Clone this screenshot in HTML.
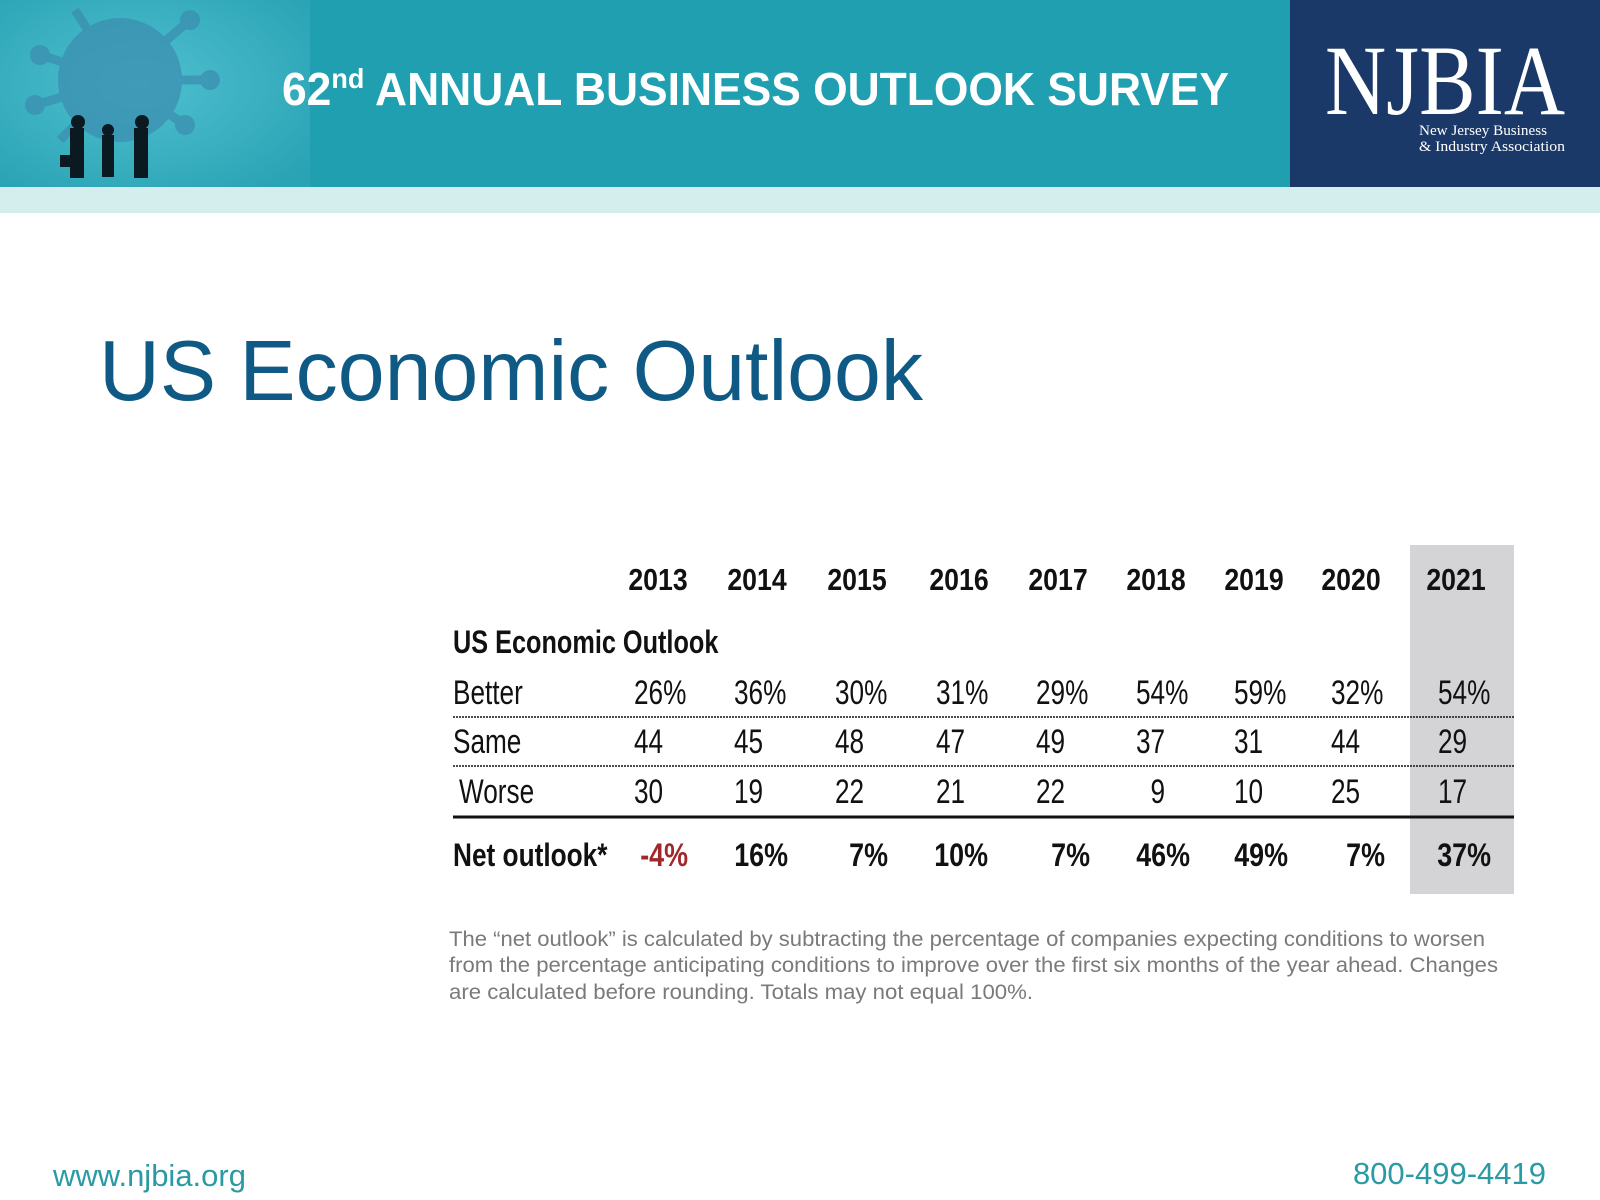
<!DOCTYPE html>
<html><head><meta charset="utf-8"><style>
html,body{margin:0;padding:0;background:#fff;}
svg{display:block;font-family:"Liberation Sans",sans-serif;}
</style></head><body>
<svg id="s" width="1600" height="1200" viewBox="0 0 1600 1200">
<defs>
<radialGradient id="g1" cx="0.45" cy="0.45" r="0.7"><stop offset="0" stop-color="#4fc0d0"/><stop offset="1" stop-color="#2aa3b4"/></radialGradient>
</defs>
<rect x="0" y="0" width="1600" height="187" fill="#1f9fb0"/>
<rect x="0" y="0" width="310" height="187" fill="url(#g1)"/>
<g fill="#3b8fb0" opacity="0.75">
<circle cx="120" cy="80" r="62"/>
<g stroke="#3b8fb0" stroke-width="9">
<line x1="120" y1="80" x2="40" y2="55"/><line x1="120" y1="80" x2="35" y2="105"/><line x1="120" y1="80" x2="75" y2="10"/>
<line x1="120" y1="80" x2="190" y2="20"/><line x1="120" y1="80" x2="210" y2="80"/><line x1="120" y1="80" x2="185" y2="125"/>
<line x1="120" y1="80" x2="60" y2="140"/></g>
<circle cx="40" cy="55" r="10"/><circle cx="35" cy="105" r="10"/><circle cx="190" cy="20" r="10"/><circle cx="210" cy="80" r="10"/><circle cx="185" cy="125" r="10"/>
</g>
<g fill="#0a1a20">
<rect x="70" y="128" width="14" height="50"/><rect x="102" y="135" width="12" height="42"/><rect x="134" y="128" width="14" height="50"/>
<circle cx="78" cy="122" r="7"/><circle cx="108" cy="130" r="6"/><circle cx="142" cy="122" r="7"/>
<rect x="60" y="155" width="10" height="12"/>
</g>
<text x="282" y="105" fill="#fff" font-weight="bold" font-size="46" textLength="947" lengthAdjust="spacingAndGlyphs">62<tspan font-size="28" dy="-17">nd</tspan><tspan dy="17"> ANNUAL BUSINESS OUTLOOK SURVEY</tspan></text>
<rect x="1290" y="0" width="310" height="187" fill="#1b3968"/>
<text x="1325" y="114" fill="#fff" font-family="Liberation Serif,serif" font-size="100" textLength="240" lengthAdjust="spacingAndGlyphs">NJBIA</text>
<text x="1419" y="135" fill="#fff" font-family="Liberation Serif,serif" font-size="15" textLength="128" lengthAdjust="spacingAndGlyphs">New Jersey Business</text>
<text x="1419" y="151" fill="#fff" font-family="Liberation Serif,serif" font-size="15" textLength="146" lengthAdjust="spacingAndGlyphs">&amp; Industry Association</text>
<rect x="0" y="187" width="1600" height="26" fill="#d4eded"/>
<text x="99" y="400" fill="#0f5a85" font-size="85" textLength="824" lengthAdjust="spacingAndGlyphs">US Economic Outlook</text>
<rect x="1410" y="545" width="104" height="349" fill="#d4d4d6"/>
<g id="tbl"></g>
<g fill="#7a7a7a" font-size="21">
<text x="449" y="946" textLength="1036" lengthAdjust="spacingAndGlyphs">The “net outlook” is calculated by subtracting the percentage of companies expecting conditions to worsen</text>
<text x="449" y="972" textLength="1049" lengthAdjust="spacingAndGlyphs">from the percentage anticipating conditions to improve over the first six months of the year ahead. Changes</text>
<text x="449" y="999" textLength="584" lengthAdjust="spacingAndGlyphs">are calculated before rounding. Totals may not equal 100%.</text>
</g>
<text x="53" y="1186" fill="#2a9aa5" font-size="31">www.njbia.org</text>
<text x="1546" y="1184" fill="#2a9aa5" font-size="31" text-anchor="end">800-499-4419</text>
</svg>
<script>
const years=["2013","2014","2015","2016","2017","2018","2019","2020","2021"];
const better=[26,36,30,31,29,54,59,32,54];
const same=[44,45,48,47,49,37,31,44,29];
const worse=[30,19,22,21,22,9,10,25,17];
const net=[-4,16,7,10,7,46,49,7,37];
const NS="http://www.w3.org/2000/svg";
const g=document.getElementById('tbl');
const colStart=[634,734,835,936,1036,1136,1234,1331,1438];
const colCenter=[658,757,857,959,1058,1156,1254,1351,1456];
const colRight=[688,788,888,988,1090,1190,1288,1385,1491];
function txt(s,x,y,size,bold,sx,anchor,fill){
  const t=document.createElementNS(NS,'text');
  t.setAttribute('transform','translate('+x+','+y+') scale('+sx+',1)');
  t.setAttribute('font-size',size);
  if(bold)t.setAttribute('font-weight','bold');
  if(anchor)t.setAttribute('text-anchor',anchor);
  t.setAttribute('fill',fill||'#111');
  t.textContent=s;g.appendChild(t);return t;}
function line(y,w,dash){
  const l=document.createElementNS(NS,'line');
  l.setAttribute('x1',453);l.setAttribute('x2',1514);l.setAttribute('y1',y);l.setAttribute('y2',y);
  l.setAttribute('stroke','#111');l.setAttribute('stroke-width',w);
  if(dash)l.setAttribute('stroke-dasharray',dash);
  
  
  g.appendChild(l);}
years.forEach((y,i)=>{
  const t=txt(y,colCenter[i],590,31,true,0.86,'middle');
  
  
});
let h=txt('US Economic Outlook',453,653,32,true,0.79);


const rows=[["Better",better,"%",704,453],["Same",same,"",753,453],["Worse",worse,"",803,459]];
rows.forEach(r=>{
  const l=txt(r[0],r[4],r[3],34,false,0.77);
  
  
  r[1].forEach((v,i)=>{
    const s=(v<10?'\u2007':'')+v+r[2];
    const t=txt(s,colStart[i],r[3],34,false,0.77);
    
    
  });
});
line(717,1.5,'2,1');line(766,1.5,'2,1');line(817,3);
const nl=txt('Net outlook*',453,866,32,true,0.82);


net.forEach((v,i)=>{
  const t=txt(v+'%',colRight[i],866,32,true,0.84,'end',v<0?'#a0282a':'#111');
  
  
});
</script>
</body></html>
